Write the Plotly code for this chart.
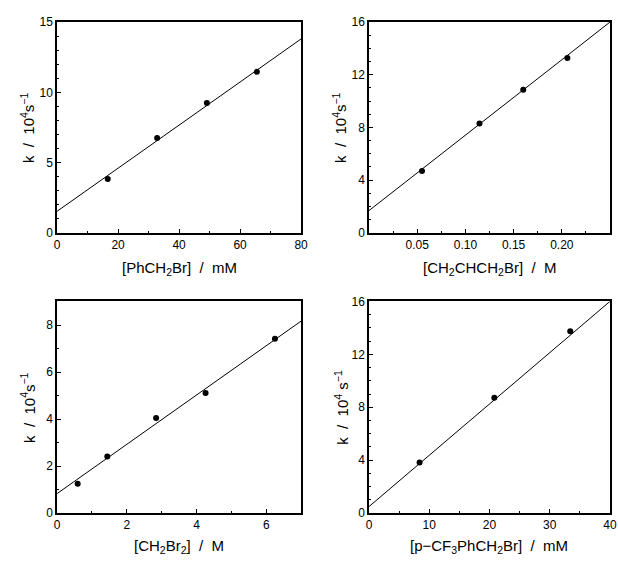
import plotly.graph_objects as go

# ---- data ----
p1_x = [16.6, 32.8, 49.1, 65.5]
p1_y = [3.82, 6.74, 9.24, 11.46]
p2_x = [0.055, 0.1146, 0.160, 0.2058]
p2_y = [4.69, 8.30, 10.86, 13.28]
p3_x = [0.59, 1.44, 2.84, 4.26, 6.25]
p3_y = [1.25, 2.41, 4.04, 5.11, 7.41]
p4_x = [8.4, 20.8, 33.4]
p4_y = [3.82, 8.72, 13.75]

fit_intercept = [1.53, 1.68, 0.83, 0.49]
fit_slope = [0.1534, 57.3, 1.048, 0.388]

x_ranges = [[0, 80], [0, 0.25], [0, 7], [0, 40]]
y_ranges = [[0, 15], [0, 16], [0, 9], [0, 16]]

x_tickvals = [[0, 20, 40, 60, 80], [0.05, 0.10, 0.15, 0.20], [0, 2, 4, 6], [0, 10, 20, 30, 40]]
x_ticktext = [["0", "20", "40", "60", "80"], ["0.05", "0.10", "0.15", "0.20"],
              ["0", "2", "4", "6"], ["0", "10", "20", "30", "40"]]
y_tickvals = [[0, 5, 10, 15], [0, 4, 8, 12, 16], [0, 2, 4, 6, 8], [0, 4, 8, 12, 16]]
x_minor = [10, 0.025, 1, 5]
y_minor = [1, 1, 1, 1]

x_titles = ["[PhCH<sub>2</sub>Br]  /  mM",
            "[CH<sub>2</sub>CHCH<sub>2</sub>Br]  /  M",
            "[CH<sub>2</sub>Br<sub>2</sub>]  /  M",
            "[p−CF<sub>3</sub>PhCH<sub>2</sub>Br]  /  mM"]
y_titles = ["k  /  10<sup>4</sup>s<sup>−1</sup>",
            "k  /  10<sup>4</sup>s<sup>−1</sup>",
            "k  /  10<sup>4</sup>s<sup>−1</sup>",
            "k  /  10<sup>4</sup> s<sup>−1</sup>"]

xs = [p1_x, p2_x, p3_x, p4_x]
ys = [p1_y, p2_y, p3_y, p4_y]

# ---- layout geometry (pixels) ----
W, H = 618, 563
px_x = [(55, 303), (372, 617), (55, 303), (372, 617)]
px_y = [(15.5, 231.5), (15.5, 231.5), (302, 519), (302, 519)]
ytitle_x = [25, 342, 25, 344]
xtitle_y = [268, 268, 553, 553]

FONT = "Liberation Sans, Arial, sans-serif"

fig = go.Figure()
layout = dict(width=W, height=H, margin=dict(l=0, r=0, t=0, b=0),
              paper_bgcolor="white", plot_bgcolor="white", showlegend=False,
              font=dict(family=FONT, color="black"))
annotations = []

for i in range(4):
    sfx = "" if i == 0 else str(i + 1)
    xa, ya = "x" + sfx, "y" + sfx
    fig.add_trace(go.Scatter(
        x=x_ranges[i],
        y=[fit_intercept[i] + fit_slope[i] * v for v in x_ranges[i]],
        mode="lines", line=dict(color="black", width=1),
        xaxis=xa, yaxis=ya, hoverinfo="skip"))
    fig.add_trace(go.Scatter(
        x=xs[i], y=ys[i], mode="markers",
        marker=dict(color="black", size=6),
        xaxis=xa, yaxis=ya, cliponaxis=False))

    x0, x1 = px_x[i]
    y0, y1 = px_y[i]
    common = dict(showline=True, mirror=True, linecolor="black", linewidth=1.5,
                  ticks="inside", ticklen=4, tickwidth=1, tickcolor="black",
                  showgrid=False, zeroline=False,
                  tickfont=dict(family=FONT, size=12, color="black"))
    layout["xaxis" + sfx] = dict(
        common, domain=[x0 / W, x1 / W], range=x_ranges[i],
        tickmode="array", tickvals=x_tickvals[i], ticktext=x_ticktext[i],
        anchor=ya,
        minor=dict(dtick=x_minor[i], ticks="inside", ticklen=2, tickcolor="black", showgrid=False))
    layout["yaxis" + sfx] = dict(
        common, domain=[1 - y1 / H, 1 - y0 / H], range=y_ranges[i],
        tickmode="array", tickvals=y_tickvals[i],
        anchor=xa,
        minor=dict(dtick=y_minor[i], ticks="inside", ticklen=2, tickcolor="black", showgrid=False))

    annotations.append(dict(
        text=x_titles[i], xref="paper", yref="paper",
        x=(x0 + x1) / 2 / W, y=1 - xtitle_y[i] / H,
        xanchor="center", yanchor="middle", showarrow=False,
        font=dict(family=FONT, size=15, color="black")))
    annotations.append(dict(
        text=y_titles[i], xref="paper", yref="paper",
        x=ytitle_x[i] / W, y=1 - (y0 + y1) / 2 / H,
        xanchor="center", yanchor="middle", showarrow=False, textangle=-90,
        font=dict(family=FONT, size=15, color="black")))

layout["annotations"] = annotations
fig.update_layout(**layout)
fig.write_html(
    "out.html",
    config={"displayModeBar": False},
    post_script="document.body.style.margin='0';document.body.style.padding='0';"
                "document.body.style.overflow='hidden';",
)
